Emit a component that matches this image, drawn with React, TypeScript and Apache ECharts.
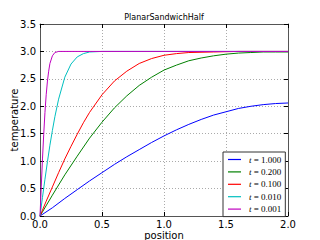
import React, { useEffect, useRef } from "react";
import * as echarts from "echarts";

const xTicks = [0, 0.5, 1.0, 1.5, 2.0];
const yTicks = [0, 0.5, 1.0, 1.5, 2.0, 2.5, 3.0, 3.5];

const seriesNames = ["t = 1.000", "t = 0.200", "t = 0.100", "t = 0.010", "t = 0.001"];
const seriesColors = ["#0000ff", "#008000", "#ff0000", "#00bfbf", "#bf00bf"];

const xBlue = [0, 0.1, 0.2, 0.3, 0.4, 0.5, 0.6, 0.7, 0.8, 0.9, 1.0, 1.1, 1.2, 1.3, 1.4, 1.5, 1.6, 1.7, 1.8, 1.9, 2.0];
const yBlue = [0, 0.15, 0.32, 0.48, 0.64, 0.79, 0.94, 1.08, 1.21, 1.34, 1.46, 1.57, 1.67, 1.76, 1.84, 1.9, 1.96, 2.0, 2.03, 2.05, 2.06];

const xGreen = [0, 0.1, 0.2, 0.3, 0.4, 0.5, 0.6, 0.7, 0.8, 0.9, 1.0, 1.1, 1.2, 1.3, 1.4, 1.5, 1.6, 1.7, 1.8, 1.9, 2.0];
const yGreen = [0, 0.38, 0.75, 1.09, 1.42, 1.71, 1.97, 2.19, 2.38, 2.53, 2.66, 2.75, 2.83, 2.88, 2.92, 2.95, 2.97, 2.98, 2.99, 2.99, 2.99];

const xRed = [0, 0.05, 0.1, 0.15, 0.2, 0.25, 0.3, 0.35, 0.4, 0.5, 0.6, 0.7, 0.8, 0.9, 1.0, 1.1, 1.2, 1.4, 1.6, 2.0];
const yRed = [0, 0.27, 0.53, 0.79, 1.04, 1.27, 1.49, 1.7, 1.89, 2.21, 2.46, 2.64, 2.78, 2.87, 2.93, 2.96, 2.98, 2.99, 3.0, 3.0];

const xCyan = [0, 0.02, 0.04, 0.06, 0.08, 0.1, 0.12, 0.15, 0.2, 0.25, 0.3, 0.35, 0.4, 0.5, 1.0, 2.0];
const yCyan = [0, 0.34, 0.67, 0.99, 1.29, 1.56, 1.81, 2.13, 2.53, 2.77, 2.9, 2.96, 2.99, 3.0, 3.0, 3.0];

const xMagenta = [0, 0.01, 0.02, 0.03, 0.04, 0.05, 0.06, 0.07, 0.08, 0.1, 0.12, 0.15, 0.5, 2.0];
const yMagenta = [0, 0.53, 1.04, 1.49, 1.89, 2.21, 2.46, 2.64, 2.78, 2.92, 2.98, 3.0, 3.0, 3.0];

const allX = [xBlue, xGreen, xRed, xCyan, xMagenta];
const allY = [yBlue, yGreen, yRed, yCyan, yMagenta];

export default function App() {
  const ref = useRef<HTMLDivElement>(null);
  useEffect(() => {
    document.body.style.margin = "0";
    if (!ref.current) return;
    const chart = echarts.init(ref.current, undefined, { renderer: "svg" });
    const axisCommon = {
      type: "value" as const,
      axisLine: { show: true, onZero: false, lineStyle: { color: "#555", width: 1 } },
      axisTick: { show: true, inside: true, length: 4, lineStyle: { color: "#000", width: 1 } },
    };
    chart.setOption({
      animation: false,
      backgroundColor: "#fff",
      title: {
        text: "PlanarSandwichHalf",
        left: 164,
        top: 13,
        textAlign: "center",
        padding: 0,
        textStyle: { fontSize: 8, fontWeight: "normal", color: "#000", fontFamily: "DejaVu Sans" },
      },
      grid: { left: 40, right: 32, top: 24, bottom: 24, containLabel: false, outerBoundsMode: "none" },
      xAxis: [
        {
          ...axisCommon,
          position: "bottom",
          min: xTicks[0],
          max: xTicks[xTicks.length - 1],
          interval: 0.5,
          name: "position",
          nameLocation: "middle",
          nameGap: 14,
          nameMoveOverlap: false,
          nameTextStyle: { fontSize: 10, lineHeight: 10, color: "#000", fontFamily: "DejaVu Sans" },
          axisLabel: { fontSize: 10, color: "#000", fontFamily: "DejaVu Sans", margin: 3, formatter: (v: number) => v.toFixed(1) },
          splitLine: { show: true, lineStyle: { color: "#aaa", type: [1, 2], width: 1 } },
        },
        {
          ...axisCommon,
          position: "top",
          min: xTicks[0],
          max: xTicks[xTicks.length - 1],
          interval: 0.5,
          axisLabel: { show: false },
          splitLine: { show: false },
        },
      ],
      yAxis: [
        {
          ...axisCommon,
          position: "left",
          min: yTicks[0],
          max: yTicks[yTicks.length - 1],
          interval: 0.5,
          name: "temperature",
          nameLocation: "middle",
          nameGap: 21,
          nameMoveOverlap: false,
          nameTextStyle: { fontSize: 10, lineHeight: 10, color: "#000", fontFamily: "DejaVu Sans" },
          axisLabel: { fontSize: 10, color: "#000", fontFamily: "DejaVu Sans", margin: 4, formatter: (v: number) => v.toFixed(1) },
          splitLine: { show: true, lineStyle: { color: "#aaa", type: [1, 2], width: 1 } },
        },
        {
          ...axisCommon,
          position: "right",
          min: yTicks[0],
          max: yTicks[yTicks.length - 1],
          interval: 0.5,
          axisLabel: { show: false },
          splitLine: { show: false },
        },
      ],
      legend: {
        orient: "vertical",
        left: 223,
        top: 152,
        padding: [3, 4, 3, 5],
        icon: "rect",
        itemWidth: 13,
        itemHeight: 1.2,
        itemGap: 3.4,
        backgroundColor: "#fff",
        borderColor: "#333",
        borderWidth: 1,
        borderRadius: 0,
        data: seriesNames,
        formatter: (name: string) => "{it|t}{n|" + name.slice(1) + "}",
        textStyle: {
          fontSize: 9,
          lineHeight: 8,
          color: "#000",
          fontFamily: "Liberation Serif",
          padding: [0, 0, 0, 3],
          rich: {
            it: { fontSize: 9, lineHeight: 8, fontStyle: "italic", fontFamily: "Liberation Serif", color: "#000" },
            n: { fontSize: 9, lineHeight: 8, fontFamily: "Liberation Serif", color: "#000" },
          },
        },
      },
      series: seriesNames.map((name, i) => ({
        name,
        type: "line",
        xAxisIndex: 0,
        yAxisIndex: 0,
        showSymbol: false,
        symbol: "none",
        smooth: false,
        color: seriesColors[i],
        lineStyle: { color: seriesColors[i], width: 1 },
        data: allX[i].map((x, j) => [x, allY[i][j]]),
      })),
    });
    return () => chart.dispose();
  }, []);
  return <div ref={ref} style={{ width: 320, height: 240 }} />;
}
